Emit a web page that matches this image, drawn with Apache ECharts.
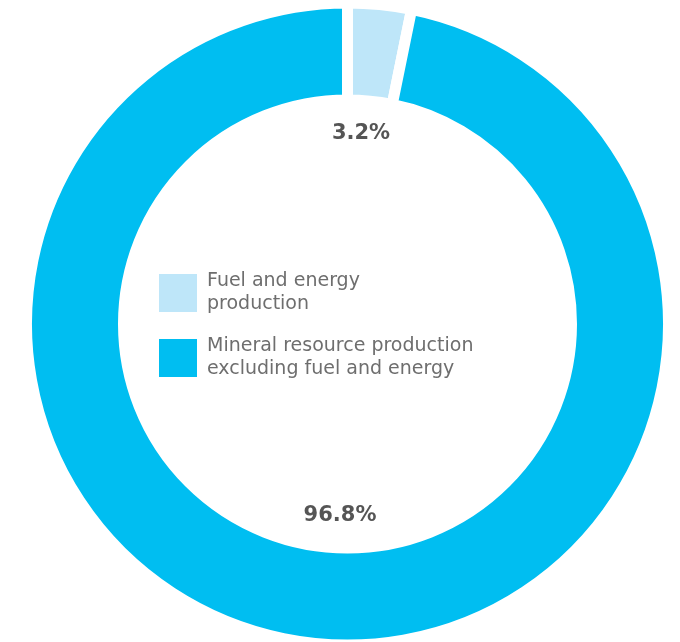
<!DOCTYPE html>
<html>
<head>
<meta charset="utf-8">
<script src="https://cdn.jsdelivr.net/npm/echarts@6/dist/echarts.min.js"></script>
<style>html,body{margin:0;padding:0;background:#fff;}#c{width:680px;height:642px;}</style>
</head>
<body>
<div id="c"></div>
<script>
const categories = ['Fuel and energy production', 'Mineral resource production excluding fuel and energy'];
const legendLabels = ['Fuel and energy\nproduction', 'Mineral resource production\nexcluding fuel and energy'];
const values = [3.2, 96.8];
const colors = ['#bee6f9', '#00bef1'];

const chart = echarts.init(document.getElementById('c'), null, {renderer: 'canvas'});
const fmt = v => v.toFixed(1) + '%';
chart.setOption({
  animation: false,
  backgroundColor: '#ffffff',
  legend: {
    orient: 'vertical',
    left: 157,
    top: 270,
    padding: 0,
    itemWidth: 40,
    itemHeight: 40,
    itemGap: 19,
    icon: 'rect',
    selectedMode: false,
    data: categories,
    formatter: name => legendLabels[categories.indexOf(name)],
    textStyle: {
      fontFamily: 'DejaVu Sans',
      fontSize: 19,
      lineHeight: 23,
      color: '#6e6e6e',
      padding: [0, 0, 0, 4]
    }
  },
  graphic: [
    {type: 'text', x: 361, y: 134, silent: true,
      style: {text: fmt(values[0]), fill: '#555555', font: 'bold 21px "DejaVu Sans"', align: 'center', verticalAlign: 'middle'}},
    {type: 'text', x: 340, y: 516, silent: true,
      style: {text: fmt(values[1]), fill: '#555555', font: 'bold 21px "DejaVu Sans"', align: 'center', verticalAlign: 'middle'}}
  ],
  series: [{
    type: 'pie',
    center: [347.5, 324],
    radius: [224, 321],
    startAngle: 90,
    clockwise: true,
    silent: true,
    label: {show: false},
    labelLine: {show: false},
    itemStyle: {borderColor: '#ffffff', borderWidth: 11},
    emphasis: {disabled: true},
    data: categories.map((n, i) => ({name: n, value: values[i], itemStyle: {color: colors[i]}}))
  }]
});
</script>
</body>
</html>
